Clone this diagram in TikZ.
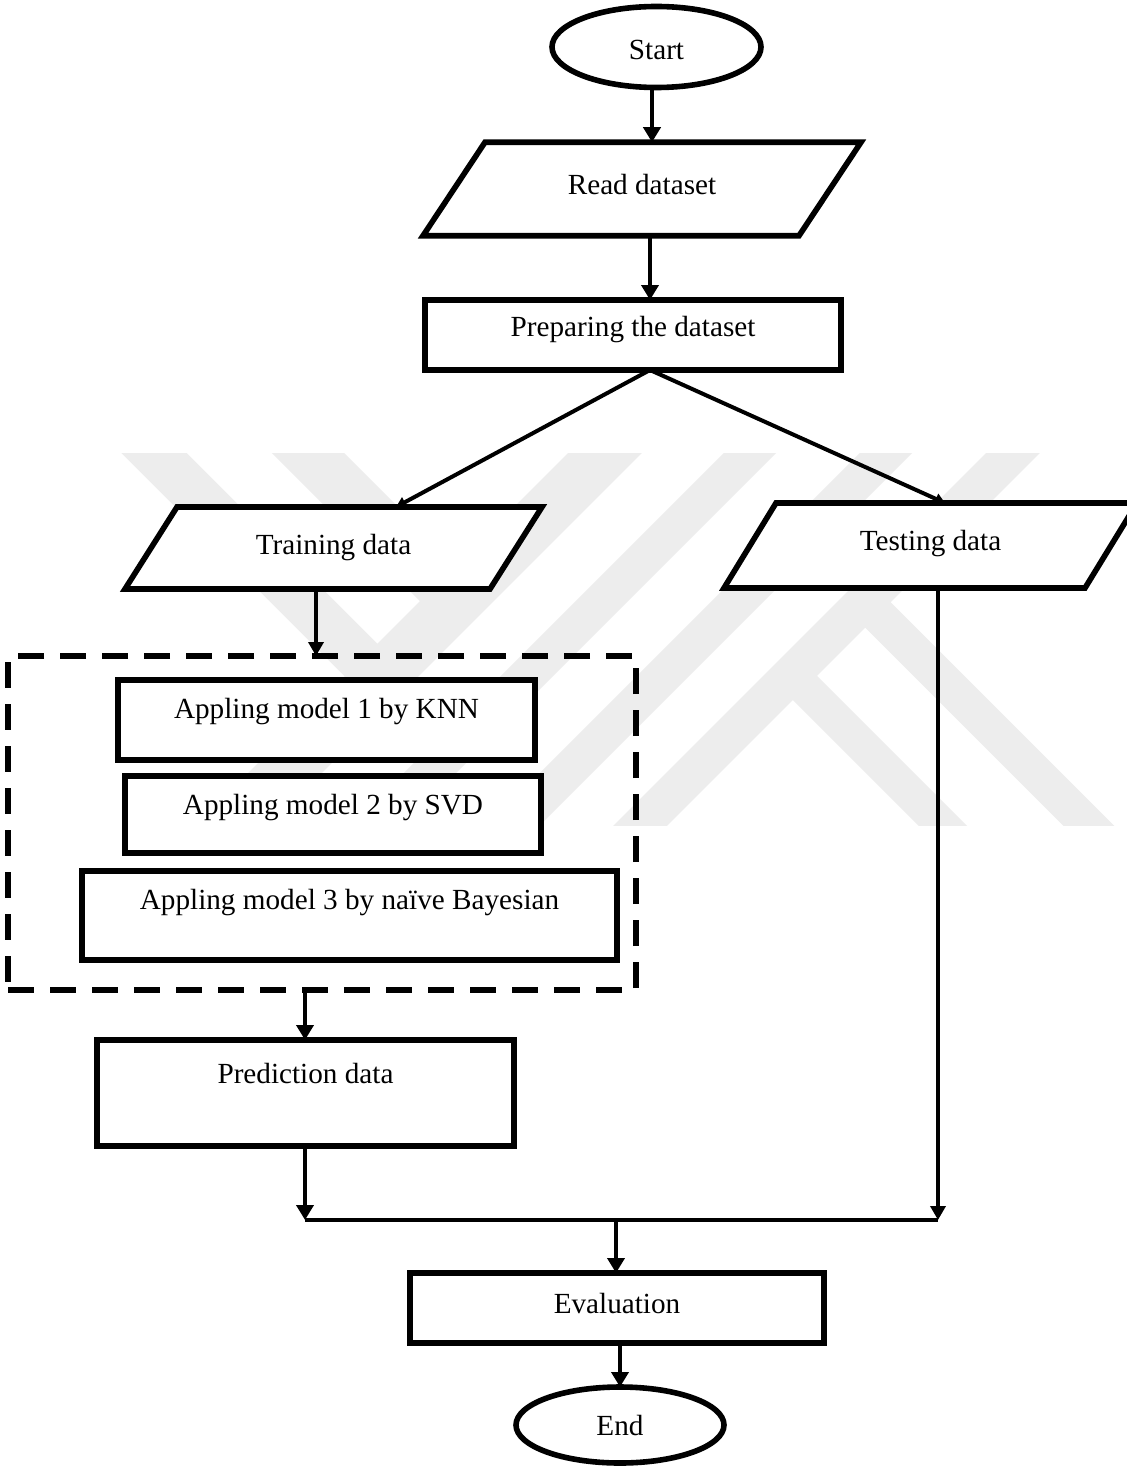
\documentclass[tikz,border=0pt]{standalone}
\usepackage{fontspec}
\setmainfont{Liberation Serif}
\usetikzlibrary{arrows.meta,calc,shapes.geometric}
\pgfdeclarelayer{mark}
\pgfdeclarelayer{under}
\pgfsetlayers{mark,under,main}
\definecolor{wmgray}{gray}{0.93}
% raise a label inside its box without changing the box size
\newcommand\liftby[2]{\raisebox{#1}[\height][\depth]{#2}}

\begin{document}
\begin{tikzpicture}[x=0.5pt,y=-0.5pt,
  font=\fontsize{14.6pt}{17pt}\selectfont,
  every node/.style={inner sep=0pt,outer sep=0pt},
  box/.style={draw,fill=white,line width=2.8pt,rectangle},
  oval/.style={draw,fill=white,line width=2.8pt,ellipse},
  slab/.style={rectangle},
  slabline/.style={draw,fill=white,line width=2.8pt,line join=miter},
  groupframe/.style={draw,line width=2.8pt,dash pattern=on 13pt off 8pt},
  arr/.style={line width=2.3pt,-{Triangle[width=8.5pt,length=7.5pt]}},
  thinarr/.style={line width=1.9pt,-{Triangle[width=7.5pt,length=7pt]}},
  diag/.style={line width=2pt,-{Triangle[width=5.5pt,length=5pt]}},
  band/.style={wmgray,line width=#1}
]
\useasboundingbox (0,0) rectangle (1127,1466);

% background and the faint striped emblem
\begin{pgfonlayer}{mark}
  \fill[white] (0,0) rectangle (1127,1466);
  \begin{scope}
    \clip (0,453) rectangle (1127,825);
    \draw[band=23pt]   (134,433) -- (379.5,678.5);
    \draw[band=25.5pt] (288,433) -- (456.5,601.5);
    \draw[band=26pt]   (625,433) -- (213,845);
    \draw[band=18.5pt] (770,433) -- (358,845);
    \draw[band=18.5pt] (906,433) -- (494,845);
    \draw[band=19pt]   (1033,433) -- (621,845);
    \draw[band=18pt]   (864.5,601.5) -- (1108,845);
    \draw[band=17pt]   (791.5,674.5) -- (962,845);
  \end{scope}
\end{pgfonlayer}

% flowchart blocks
\node[oval,minimum width=104.5pt,minimum height=40.5pt] (st) at (656.5,47) {\liftby{-1.5pt}{Start}};
\node[slab,minimum width=188pt,minimum height=46.75pt] (read) at (642,189) {\liftby{2.25pt}{Read dataset}};
\node[box,minimum width=208pt,minimum height=35pt] (prep) at (633,335) {\liftby{2.5pt}{Preparing the dataset}};
\node[slab,minimum width=182.5pt,minimum height=41pt] (train) at (333.5,548) {Training data};
\node[slab,minimum width=180.5pt,minimum height=42.5pt] (test) at (930.5,545.5) {\liftby{0.75pt}{Testing data}};
\node[groupframe,minimum width=314pt,minimum height=167pt] (grp) at (322,823) {};
\node[box,minimum width=208.5pt,minimum height=40pt] (m1) at (326.5,720) {\liftby{4pt}{Appling model 1 by KNN}};
\node[box,minimum width=208pt,minimum height=38.5pt] (m2) at (333,814.5) {\liftby{3.25pt}{Appling model 2 by SVD}};
\node[box,minimum width=267.5pt,minimum height=44.5pt] (m3) at (349.5,915.5) {\liftby{6.25pt}{Appling model 3 by naïve Bayesian}};
\node[box,minimum width=208.5pt,minimum height=53pt] (pred) at (305.5,1093) {\liftby{10pt}{Prediction data}};
\node[box,minimum width=207pt,minimum height=35pt] (eval) at (617,1308) {\liftby{2.5pt}{Evaluation}};
\node[oval,minimum width=104pt,minimum height=38pt] (fin) at (620,1425) {End};

% slanted data blocks drawn beneath their labels
\begin{pgfonlayer}{under}
  \foreach \n/\s in {read/31, train/26, test/26} {
    \draw[slabline] ($(\n.north west)+(\s,0)$) -- ($(\n.north east)+(\s,0)$)
      -- ($(\n.south east)-(\s,0)$) -- ($(\n.south west)-(\s,0)$) -- cycle;
  }
\end{pgfonlayer}

% columns and rows used by the connectors
\coordinate (colA) at (652,0);
\coordinate (colB) at (650,0);
\coordinate (tipL) at (396,0);
\coordinate (tipR) at (945,0);
\coordinate (colC) at (316,0);
\coordinate (colD) at (305,0);
\coordinate (colE) at (938,0);
\coordinate (colF) at (616,0);
\coordinate (colG) at (620,0);
\coordinate (rowJ) at (0,1220);
\coordinate (fork) at (colB |- prep.south);

% connectors
\draw[arr] (colA |- st.south) -- (colA |- read.north);
\draw[arr] (colB |- read.south) -- (colB |- prep.north);
\draw[diag] (fork) -- (tipL |- train.north);
\draw[diag] (fork) -- (tipR |- test.north);
\draw[thinarr] (colC |- train.south) -- (colC |- grp.north);
\draw[arr] (colD |- grp.south) -- (colD |- pred.north);
\draw[arr] (colD |- pred.south) -- (colD |- rowJ);
\draw[thinarr] (colE |- test.south) -- (colE |- rowJ);
\draw[line width=2.4pt] (colD |- rowJ) -- (colE |- rowJ);
\draw[arr] (colF |- rowJ) -- (colF |- eval.north);
\draw[arr] (colG |- eval.south) -- (colG |- fin.north);
\end{tikzpicture}
\end{document}
